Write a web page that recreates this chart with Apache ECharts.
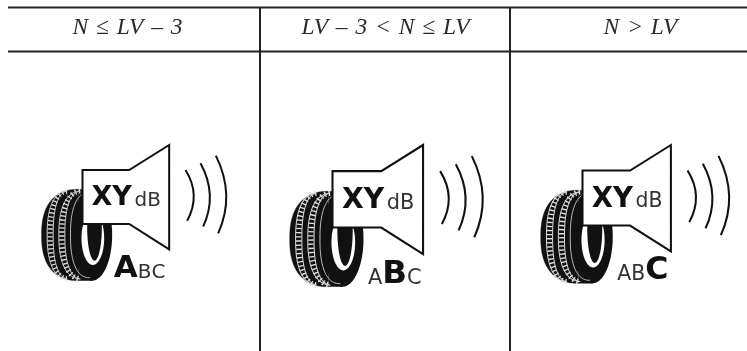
<!DOCTYPE html>
<html>
<head>
<meta charset="utf-8">
<style>
html,body{margin:0;padding:0;background:#fff;overflow:hidden}
#main{width:747px;height:351px}
</style>
<script src="https://cdn.jsdelivr.net/npm/echarts@6/dist/echarts.min.js"></script>
</head>
<body>
<div id="main"></div>
<script>
// table content
var headers=['N\u2004\u2264\u2004LV\u2004\u2013\u20043','LV\u2004\u2013\u20043\u2004<\u2004N\u2004\u2264\u2004LV','N\u2004>\u2004LV'];
var noiseLabel=['XY','dB'];
var classLetters=['A','B','C'];
var activeClass=[0,1,2];

// per column tweaks, the three icons in the picture are not quite the same size
var headerShift=[-7.5,0.5,5.5];
var iconScale=[1,1.045,1.02];

var SANS='"DejaVu Sans"';
var measure=document.createElement('canvas').getContext('2d');

// left half of a squashed ellipse, the tyre is flatter on top than a true ellipse
function leftArc(cx,cy,rx,ry,style,cut){
    let pts=[];
    let lim=cut||1;
    for(let k=-40;k<=40;k++){
        let t=k/40*lim*Math.PI/2;
        let sn=Math.sin(t),cs=Math.cos(t);
        pts.push([cx-rx*Math.pow(cs,0.83),cy+ry*(sn<0?-1:1)*Math.pow(Math.abs(sn),0.83)]);
    }
    return {type:'polyline',shape:{points:pts},style:Object.assign({fill:null},style)};
}

function ladder(cx,rx){
    //rungs first, then the two rails
    return [
        leftArc(cx,285,rx,132,{stroke:'#e4e4e4',lineWidth:16,lineDash:[4,8]},0.96),
        leftArc(cx,285,rx-9,132,{stroke:'#d4d4d4',lineWidth:3},0.96),
        leftArc(cx,285,rx+9,132,{stroke:'#d4d4d4',lineWidth:3},0.96)
    ];
}

function tyre(){
    let body=leftArc(145,285,112,137,{fill:'#111',stroke:'#111',lineWidth:1});
    return [
        body,
        {type:'rect',shape:{x:145,y:148,width:40,height:274},style:{fill:'#111'}},
        {type:'ellipse',shape:{cx:185,cy:285,rx:60,ry:137},style:{fill:'#111'}}
    ].concat(ladder(115,56),ladder(155,61),[
        leftArc(178,285,58,128,{stroke:'#ddd',lineWidth:2.5}),
        {type:'ellipse',shape:{cx:187,cy:295,rx:34,ry:80},style:{fill:'#fff'}},
        {type:'ellipse',shape:{cx:192,cy:262,rx:22,ry:100},style:{fill:'#111'}}
    ]);
}

function speaker(){
    return [
        {type:'polygon',
         shape:{points:[[156,90],[296,90],[416,15],[416,328],[296,252],[156,252]]},
         style:{fill:'#fff',stroke:'#111',lineWidth:6,lineJoin:'miter'}},
        wordAt(noiseLabel[0],183,203,81,'bold','#111'),
        wordAt(noiseLabel[1],312,203,60,'normal','#333')
    ];
}

function waves(){
    var s={fill:null,stroke:'#111',lineWidth:6};
    return [
        {type:'bezierCurve',shape:{x1:465,y1:90,cpx1:512,cpy1:165,x2:470,y2:242},style:s},
        {type:'bezierCurve',shape:{x1:510,y1:70,cpx1:562,cpy1:165,x2:518,y2:260},style:s},
        {type:'bezierCurve',shape:{x1:556,y1:47,cpx1:615,cpy1:165,x2:563,y2:280},style:s}
    ];
}

// canvas middle baseline sits about .346em over the alphabetic one in DejaVu
function wordAt(txt,x,baseline,size,weight,color){
    return {
        type:'text',
        style:{text:txt,x:x,y:baseline-size*0.346,font:weight+' '+size+'px '+SANS,
            fill:color,align:'left',verticalAlign:'middle'}
    };
}

function classRow(active){
    let out=[];
    let x=active==0?250:258;
    for(let i=0;i<classLetters.length;i++){
        let big=i==active;
        let font=big?'bold':'normal';
        let size=big?93:60;
        out.push(wordAt(classLetters[i],x,418,size,font,big?'#111':'#333'));
        measure.font=font+' '+size+'px '+SANS;
        x+=measure.measureText(classLetters[i]).width;
    }
    return out;
}

function renderCell(params,api){
    let i=api.value(0);
    let c=api.coord([i,0]);
    let s=iconScale[i]/3;
    return {
        type:'group',
        children:[
            {
                type:'text',
                style:{text:headers[i],x:c[0]+headerShift[i],y:28,
                    font:'italic 23.5px "Liberation Serif"',fill:'#2a2a2a',align:'center',verticalAlign:'middle'}
            },
            {
                type:'group',
                x:c[0]-52.5-156*s,
                y:145-15*s,
                scaleX:s,
                scaleY:s,
                children:tyre().concat(speaker(),waves(),classRow(activeClass[i]))
            }
        ]
    };
}

var chart=echarts.init(document.getElementById('main'));
chart.setOption({
    animation:false,
    backgroundColor:'#fff',
    grid:{left:10,top:7,width:750,height:344,outerBoundsMode:'none'},
    xAxis:{
        type:'category',
        data:headers,
        position:'top',
        axisLabel:{show:false},
        axisTick:{show:false},
        axisLine:{show:false},
        splitLine:{show:true,showMinLine:false,showMaxLine:false,lineStyle:{color:'#222',width:2}}
    },
    yAxis:{type:'value',min:0,max:1,show:false},
    graphic:[
        {type:'line',z:10,shape:{x1:8,y1:7.5,x2:747,y2:7.5},style:{stroke:'#222',lineWidth:2}},
        {type:'line',z:10,shape:{x1:8,y1:51.5,x2:747,y2:51.5},style:{stroke:'#222',lineWidth:2}}
    ],
    series:[{
        type:'custom',
        clip:false,
        silent:true,
        renderItem:renderCell,
        encode:{x:0,y:1},
        data:activeClass.map(function(v,i){return [i,0];})
    }]
});
</script>
</body>
</html>
